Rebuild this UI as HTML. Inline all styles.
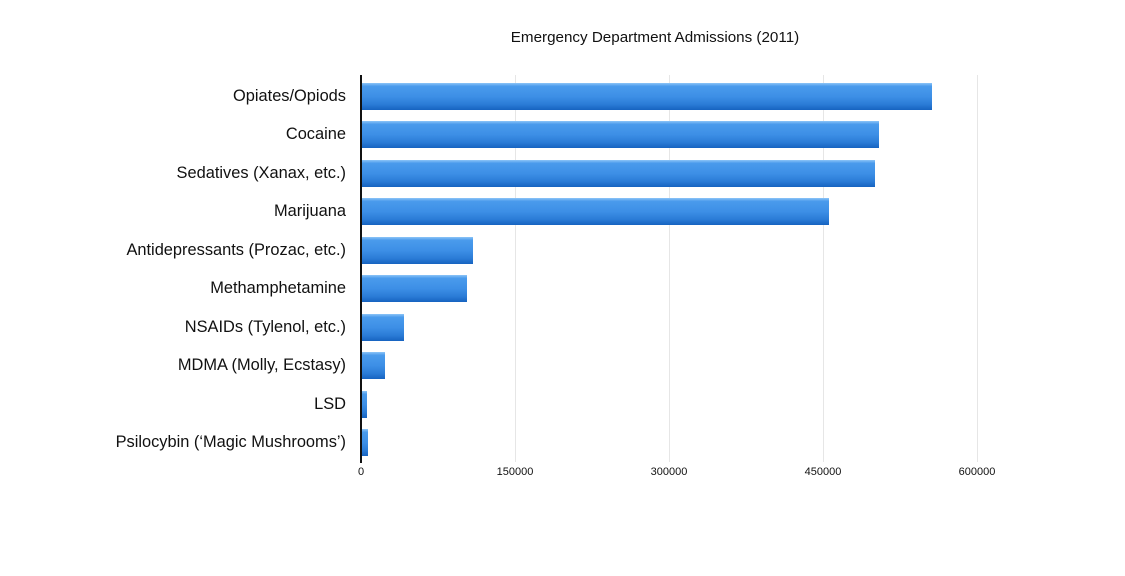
<!DOCTYPE html>
<html><head><style>
body{margin:0;width:1125px;height:576px;background:#fff;position:relative;font-family:"Liberation Sans",sans-serif;overflow:hidden}
.t{position:absolute;top:29px;left:455px;width:400px;text-align:center;font-size:15.2px;color:#111}
.g{position:absolute;top:75px;height:387px;width:1px;background:#e6e6e6}
.ax{position:absolute;left:360px;top:75px;height:388px;width:2px;background:#111}
.b{position:absolute;left:362px;height:27px;background:linear-gradient(#8cc4f7 0%,#4a9bec 12%,#3d8fe6 50%,#2a7bd6 80%,#1663c0 100%)}
.l{position:absolute;right:779px;font-size:16.4px;color:#111;white-space:nowrap;line-height:27px}
.x{position:absolute;top:466px;font-size:11px;color:#111;width:80px;text-align:center}
</style></head><body>
<div class="t">Emergency Department Admissions (2011)</div>
<div class="g" style="left:515px"></div><div class="g" style="left:669px"></div><div class="g" style="left:823px"></div><div class="g" style="left:977px"></div>
<div class="b" style="top:83px;width:570px"></div><div class="l" style="top:83px">Opiates/Opiods</div>
<div class="b" style="top:121px;width:517px"></div><div class="l" style="top:121px">Cocaine</div>
<div class="b" style="top:160px;width:513px"></div><div class="l" style="top:160px">Sedatives (Xanax, etc.)</div>
<div class="b" style="top:198px;width:467px"></div><div class="l" style="top:198px">Marijuana</div>
<div class="b" style="top:237px;width:111px"></div><div class="l" style="top:237px">Antidepressants (Prozac, etc.)</div>
<div class="b" style="top:275px;width:105px"></div><div class="l" style="top:275px">Methamphetamine</div>
<div class="b" style="top:314px;width:42px"></div><div class="l" style="top:314px">NSAIDs (Tylenol, etc.)</div>
<div class="b" style="top:352px;width:23px"></div><div class="l" style="top:352px">MDMA (Molly, Ecstasy)</div>
<div class="b" style="top:391px;width:5px"></div><div class="l" style="top:391px">LSD</div>
<div class="b" style="top:429px;width:6px"></div><div class="l" style="top:429px">Psilocybin (‘Magic Mushrooms’)</div>
<div class="ax"></div>
<div class="x" style="left:321px">0</div>
<div class="x" style="left:475px">150000</div>
<div class="x" style="left:629px">300000</div>
<div class="x" style="left:783px">450000</div>
<div class="x" style="left:937px">600000</div>
</body></html>
